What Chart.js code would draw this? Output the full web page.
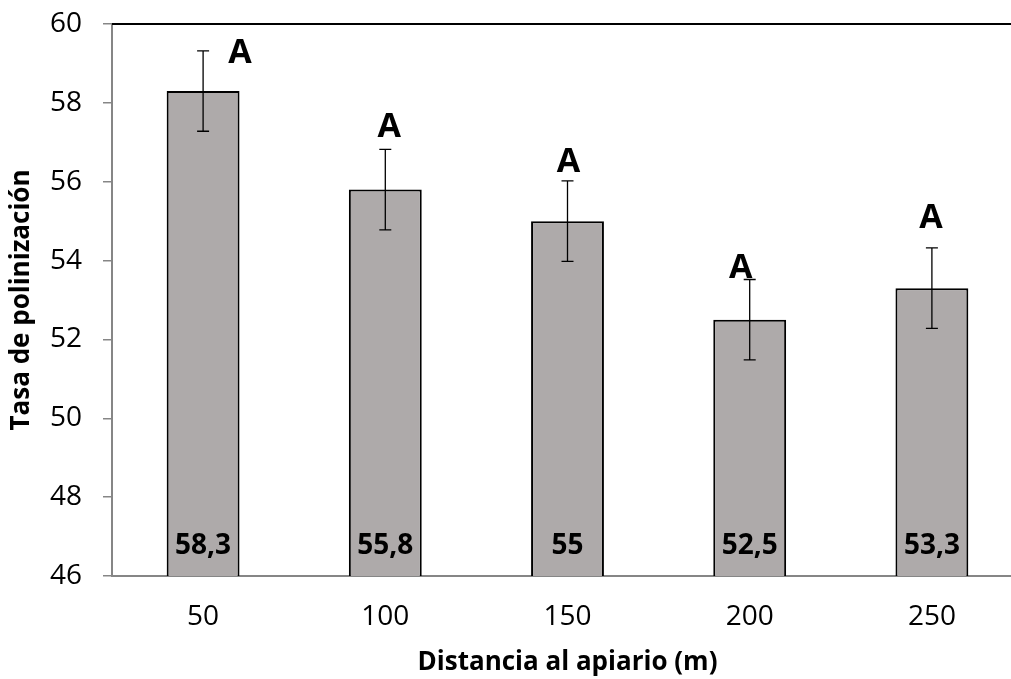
<!DOCTYPE html>
<html>
<head>
  <meta charset="UTF-8">
  <title>Tasa de polinización</title>
  <script src="https://cdn.jsdelivr.net/npm/chart.js"></script>
  <style>
    html, body { margin: 0; padding: 0; background: #fff; overflow: hidden; }
    #wrap { width: 1024px; height: 679px; }
  </style>
</head>
<body>
  <div id="wrap"><canvas id="chart" width="1024" height="679"></canvas></div>

  <script>
    // datos
    const distancias = ['50', '100', '150', '200', '250'];
    const tasa = [58.3, 55.8, 55, 52.5, 53.3];
    const etiquetas = ['58,3', '55,8', '55', '52,5', '53,3'];
    const errores = [1.02, 1.02, 1.02, 1.02, 1.02];
    const letras = ['A', 'A', 'A', 'A', 'A'];
    const letrasY = [59.26, 57.39, 56.5, 53.81, 55.08];

    const FONT = '"Open Sans", sans-serif';

    // barras de error, letras, valores y línea superior
    const extras = {
      id: 'extras',
      afterDatasetsDraw(chart) {
        const ctx = chart.ctx;
        const y = chart.scales.y;
        const meta = chart.getDatasetMeta(0);
        const area = chart.chartArea;
        const shift = [37, 4, 1, -9, -1];
        ctx.save();
        // linea de arriba
        ctx.strokeStyle = '#000';
        ctx.lineWidth = 2;
        ctx.beginPath();
        ctx.moveTo(area.left, area.top);
        ctx.lineTo(chart.width, area.top);
        ctx.stroke();

        meta.data.forEach((bar, i) => {
          const cx = bar.x;
          const yTop = y.getPixelForValue(tasa[i] + errores[i]);
          const yBot = y.getPixelForValue(tasa[i] - errores[i]);
          ctx.strokeStyle = '#000';
          ctx.lineWidth = 1.3;
          ctx.beginPath();
          ctx.moveTo(cx, yTop); ctx.lineTo(cx, yBot);
          ctx.moveTo(cx - 6, yTop); ctx.lineTo(cx + 6, yTop);
          ctx.moveTo(cx - 6, yBot); ctx.lineTo(cx + 6, yBot);
          ctx.stroke();

          // valor dentro de la barra
          ctx.fillStyle = '#000';
          ctx.font = 'bold 28px ' + FONT;
          ctx.textAlign = 'center';
          ctx.textBaseline = 'middle';
          ctx.fillText(etiquetas[i], cx, area.bottom - 30);

          // letra
          ctx.font = 'bold 34px ' + FONT;
          ctx.fillText(letras[i], cx + shift[i], y.getPixelForValue(letrasY[i]));
        });
        ctx.restore();
      }
    };

    new Chart(document.getElementById('chart'), {
      type: 'bar',
      data: {
        labels: distancias,
        datasets: [{
          data: tasa,
          backgroundColor: '#AEAAAA',
          borderColor: '#000',
          borderWidth: 2,
          borderSkipped: false,
          barPercentage: 0.4,
          categoryPercentage: 1
        }]
      },
      options: {
        responsive: false,
        animation: false,
        events: [],
        layout: { padding: { top: 24, right: 1, bottom: 0, left: 0 } },
        plugins: { legend: { display: false }, tooltip: { enabled: false } },
        scales: {
          x: {
            grid: { display: false, drawTicks: false },
            border: { color: '#868686', width: 2 },
            ticks: { color: '#000', font: { family: FONT, size: 28 }, padding: 24 },
            title: {
              display: true,
              text: 'Distancia al apiario (m)',
              color: '#000',
              font: { family: FONT, size: 26, weight: 'bold' },
              padding: { top: 0, bottom: 1 }
            },
            afterFit(s) { s.height = 103; s.paddingLeft = 0; s.paddingRight = 0; }
          },
          y: {
            min: 46,
            max: 60,
            ticks: { stepSize: 2, color: '#000', font: { family: FONT, size: 28 }, padding: 21 },
            grid: { drawOnChartArea: false, tickLength: 9, color: '#868686', lineWidth: 1.5 },
            border: { color: '#868686', width: 2 },
            title: {
              display: true,
              text: 'Tasa de polinización',
              color: '#000',
              font: { family: FONT, size: 26, weight: 'bold' },
              padding: { top: 6, bottom: 0 }
            },
            afterFit(s) { s.width = 112; s.paddingTop = 0; s.paddingBottom = 0; }
          }
        }
      },
      plugins: [extras]
    });
  </script>
</body>
</html>
